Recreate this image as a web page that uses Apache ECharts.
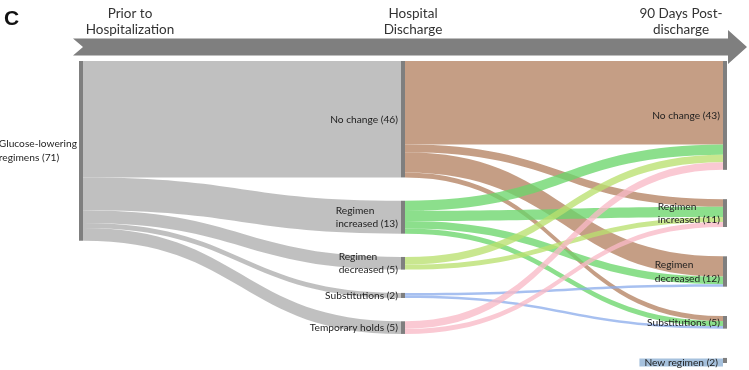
<!DOCTYPE html>
<html>
<head>
<meta charset="utf-8">
<script src="https://cdn.jsdelivr.net/npm/echarts@6/dist/echarts.min.js"></script>
<style>
  html, body { margin: 0; padding: 0; background: #fff; }
  #chart { width: 749px; height: 370px; }
</style>
</head>
<body>
<div id="chart"></div>
<script>
// stage headings over the arrow
const stageTitles = ['Prior to\nHospitalization', 'Hospital\nDischarge', '90 Days Post-\ndischarge'];

// starting cohort
const startName = 'Glucose-lowering\nregimens';
const startCount = 71;

// status at hospital discharge
const dischargeCats = ['No change', 'Regimen\nincreased', 'Regimen\ndecreased', 'Substitutions', 'Temporary holds'];
const dischargeCounts = [46, 13, 5, 2, 5];

// status 90 days post-discharge
const followCats = ['No change', 'Regimen\nincreased', 'Regimen\ndecreased', 'Substitutions', 'New regimen'];
const followCounts = [43, 11, 12, 5, 2];

// discharge (rows) -> 90 days (columns)
const flows = [
  [33, 3, 8, 2, 0],
  [4, 4, 3, 2, 0],
  [3, 2, 0, 0, 0],
  [0, 0, 1, 1, 0],
  [3, 2, 0, 0, 0]
];

// link colour per discharge category
const flowColors = ['#b58363', '#6bd66b', '#bae06f', '#8eaeec', '#f9bac7'];

const chart = echarts.init(document.getElementById('chart'));

const TOP = 61, HEIGHT = 302, GAP = 29.3, MID_GAP = 23.3;
const FONT = 'Lato, "Open Sans", sans-serif';
const total2 = followCounts.reduce((a, b) => a + b, 0);
const ky = (HEIGHT - (followCounts.length - 1) * GAP) / total2;

const richLabel = (txt, n) => {
  const lines = (txt + ' (' + n + ')').split('\n');
  return lines.map(l => '{t|' + l + '}').join('\n');
};

const nodes = [];
const links = [];
nodes.push({ name: 's0', depth: 0, value: startCount, label: { formatter: richLabel(startName, startCount), distance: 2 } });

let acc = 0;
dischargeCats.forEach((c, i) => {
  const y = acc * ky + i * MID_GAP;
  acc += dischargeCounts[i];
  nodes.push({ name: 'd' + i, depth: 1, value: dischargeCounts[i], localY: y / HEIGHT,
    label: { formatter: richLabel(c, dischargeCounts[i]) } });
  links.push({ source: 's0', target: 'd' + i, value: dischargeCounts[i],
    lineStyle: { color: '#b5b5b5', opacity: 0.85 } });
});

followCats.forEach((c, j) => {
  const item = { name: 'f' + j, depth: 2, value: followCounts[j], label: { formatter: richLabel(c, followCounts[j]) } };
  if (c === 'New regimen') {
    item.label = { formatter: '{nb|New regimen (' + followCounts[j] + ')}', distance: 0, offset: [0, 2] };
  }
  nodes.push(item);
});

flows.forEach((row, i) => {
  row.forEach((v, j) => {
    if (v > 0) {
      links.push({ source: 'd' + i, target: 'f' + j, value: v,
        lineStyle: { color: flowColors[i], opacity: 0.78 } });
    }
  });
});

const headerX = [130, 413, 681];

chart.setOption({
  animation: false,
  graphic: [
    {
      type: 'polygon',
      shape: { points: [[73, 38.5], [728, 38.5], [728, 30], [747, 47], [728, 64], [728, 55.5], [73, 55.5], [83, 47]] },
      style: { fill: '#7f7f7f' }
    },
    {
      type: 'text', left: 4, top: 9,
      style: { text: 'C', font: 'bold 21px "Liberation Sans", Arial, sans-serif', fill: '#111' }
    }
  ].concat(stageTitles.map((t, i) => ({
    type: 'text', x: headerX[i], y: 21.5,
    style: {
      text: t, fill: '#333', align: 'center', verticalAlign: 'middle',
      font: '13.5px ' + FONT, lineHeight: 16
    }
  }))),
  series: [{
    type: 'sankey',
    left: 79, right: 22, top: TOP, height: HEIGHT,
    nodeWidth: 4,
    nodeGap: GAP,
    layoutIterations: 0,
    draggable: false,
    silent: true,
    emphasis: { disabled: true },
    itemStyle: { color: '#7f7f7f', borderWidth: 0 },
    lineStyle: { curveness: 0.5 },
    label: {
      position: 'left',
      distance: 3,
      rich: {
        t: { fontFamily: FONT, fontSize: 10.2, color: '#1e1e1e', lineHeight: 13.5, align: 'left' },
        nb: { fontFamily: FONT, fontSize: 10.2, color: '#1e1e1e', align: 'left',
          backgroundColor: '#a6c1dd', height: 8, lineHeight: 8, padding: [0, 5, 0, 5] }
      }
    },
    data: nodes,
    links: links
  }]
});
</script>
</body>
</html>
